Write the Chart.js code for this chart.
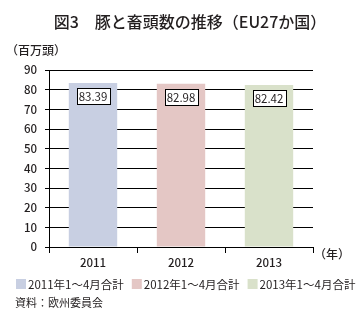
<!DOCTYPE html>
<html>
<head>
<meta charset="utf-8">
<script src="https://cdn.jsdelivr.net/npm/chart.js@4/dist/chart.umd.min.js"></script>
<style>
  html, body { margin: 0; padding: 0; background: #fff; }
  #wrap { width: 360px; height: 322px; }
</style>
</head>
<body>
<div id="wrap"><canvas id="pigChart" width="360" height="322"></canvas></div>
<script>
const years = ['2011', '2012', '2013'];
const heads = [83.39, 82.98, 82.42];          // 百万頭
const legendLabels = ['2011年1～4月合計', '2012年1～4月合計', '2013年1～4月合計'];
const barColors = ['#c8cfe2', '#e4c7c5', '#d9e1ca'];
const yMin = 0;
const yMax = 90;
const yStep = 10;

const FONT = "'Noto Sans CJK JP', 'Noto Sans', sans-serif";
const INK = '#231f20';

// white page behind the canvas
const bgPlugin = {
    id: 'bg',
    beforeDraw(chart) {
        const ctx = chart.ctx;
        ctx.save();
        ctx.fillStyle = '#fff';
        ctx.fillRect(0, 0, chart.width, chart.height);
        ctx.restore();
    }
};

// boxed value labels near the top of each bar
const valueBoxPlugin = {
    id: 'valueBox',
    afterDatasetsDraw(chart) {
        const ctx = chart.ctx;
        const meta = chart.getDatasetMeta(0);
        ctx.save();
        ctx.font = '11.5px ' + FONT;
        ctx.textAlign = 'center';
        ctx.textBaseline = 'middle';
        meta.data.forEach((bar, i) => {
            const txt = heads[i].toFixed(2);
            const w = Math.round(ctx.measureText(txt).width) + 4;
            const h = 16;
            const cx = Math.round(bar.x);
            const cy = bar.y + 13;
            const x0 = Math.round(cx - w / 2) + 0.5;
            const y0 = Math.round(cy - h / 2) + 0.5;
            ctx.fillStyle = '#fff';
            ctx.fillRect(x0, y0, w, h);
            ctx.strokeStyle = '#000';
            ctx.lineWidth = 1;
            ctx.strokeRect(x0, y0, w, h);
            ctx.fillStyle = INK;
            ctx.fillText(txt, cx, cy + 0.5);
        });
        ctx.restore();
    }
};

// headline, unit labels, legend and source line
const captionPlugin = {
    id: 'captions',
    afterDraw(chart) {
        const ctx = chart.ctx;
        const area = chart.chartArea;
        ctx.save();
        ctx.fillStyle = INK;
        ctx.textBaseline = 'middle';

        ctx.font = '500 16px ' + FONT;
        ctx.textAlign = 'center';
        ctx.fillText('図3　豚と畜頭数の推移（EU27か国）', 190, 22);

        ctx.textAlign = 'left';
        ctx.font = '500 12px ' + FONT;
        ctx.fillText('（百万頭）', 6, 50);
        ctx.fillText('（年）', area.right + 1, area.bottom + 7);

        // legend: swatch + label, packed left to right
        ctx.font = '11.5px ' + FONT;
        let lx = 16;
        legendLabels.forEach((label, i) => {
            ctx.fillStyle = barColors[i];
            ctx.fillRect(lx, 279, 10, 10);
            ctx.fillStyle = INK;
            ctx.fillText(label, lx + 12, 284.5);
            lx += 12 + ctx.measureText(label).width + 8;
        });

        ctx.font = '11px ' + FONT;
        ctx.fillText('資料：欧州委員会', 15, 303);
        ctx.restore();
    }
};

const chart = new Chart(document.getElementById('pigChart'), {
    type: 'bar',
    data: {
        labels: years,
        datasets: [{
            data: heads,
            backgroundColor: barColors,
            borderWidth: 0,
            categoryPercentage: 1,
            barPercentage: 0.55
        }]
    },
    options: {
        responsive: false,
        animation: false,
        devicePixelRatio: 1,
        layout: { padding: { top: 70, right: 47, bottom: 0, left: 0 } },
        plugins: {
            legend: { display: false },
            title: { display: false },
            tooltip: { enabled: false }
        },
        scales: {
            x: {
                afterFit(scale) { scale.height = 75; },
                grid: {
                    offset: true,
                    drawOnChartArea: false,
                    color: '#000',
                    tickColor: '#000',
                    tickLength: 6
                },
                border: { color: '#000', width: 1 },
                ticks: {
                    color: INK,
                    padding: 3,
                    font: { family: FONT, size: 11.5, weight: '500' }
                }
            },
            y: {
                min: yMin,
                max: yMax,
                afterFit(scale) { scale.width = 49; },
                grid: {
                    color: '#000',
                    tickColor: '#000',
                    tickLength: 4,
                    lineWidth: 1
                },
                border: { color: '#000', width: 1 },
                ticks: {
                    stepSize: yStep,
                    color: INK,
                    padding: 8,
                    font: { family: FONT, size: 11.5, weight: '500' }
                }
            }
        }
    },
    plugins: [bgPlugin, valueBoxPlugin, captionPlugin]
});
</script>
</body>
</html>
